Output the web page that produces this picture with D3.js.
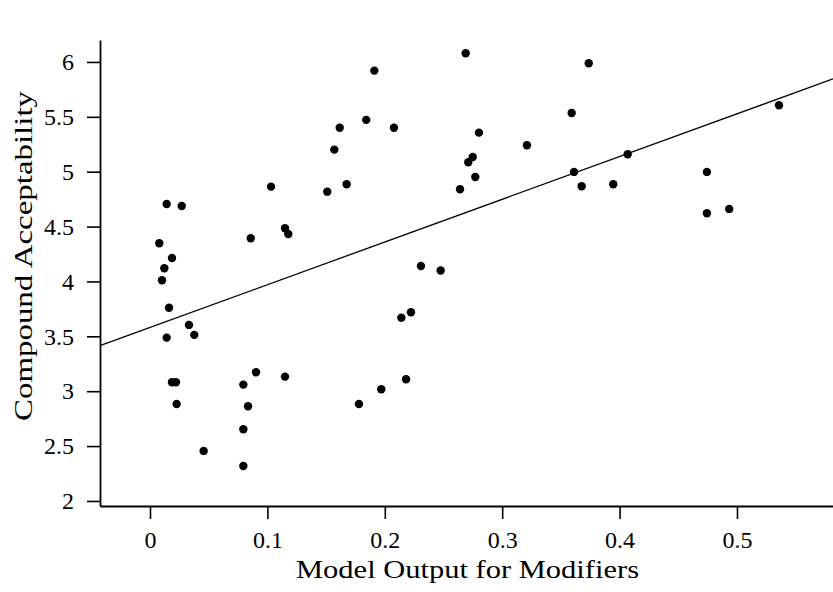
<!DOCTYPE html>
<html>
<head>
<meta charset="utf-8">
<script src="https://cdn.jsdelivr.net/npm/d3@7"></script>
<style>
  html, body { margin: 0; padding: 0; background: #fff; }
  svg { display: block; }
  text { font-family: "Liberation Serif", "Times New Roman", serif; fill: #000; }
</style>
</head>
<body>
<svg id="chart" width="833" height="592"></svg>
<script>
// Data
const modelOutput = [
  0.1031, 0.0142, 0.0270, 0.0858, 0.1150, 0.1178, 0.0079, 0.0187, 0.0122, 0.0102,
  0.0162, 0.0332, 0.0377, 0.0142, 0.0187, 0.0221, 0.0903, 0.1150, 0.0795, 0.0227,
  0.0835, 0.0795, 0.0457, 0.0795, 0.2689, 0.1911, 0.1842, 0.1616, 0.2078, 0.1570,
  0.1675, 0.1510, 0.2802, 0.2749, 0.2711, 0.2771, 0.2641, 0.2308, 0.2476, 0.2223,
  0.2141, 0.2181, 0.1970, 0.1780, 0.3737, 0.3592, 0.3211, 0.4069, 0.3612, 0.3677,
  0.3946, 0.5358, 0.4744, 0.4744, 0.4934
];
const acceptability = [
  4.864, 4.706, 4.688, 4.394, 4.485, 4.433, 4.348, 4.214, 4.120, 4.011,
  3.761, 3.604, 3.513, 3.488, 3.082, 3.082, 3.173, 3.133, 3.060, 2.884,
  2.863, 2.653, 2.456, 2.319, 6.079, 5.921, 5.472, 5.401, 5.401, 5.201,
  4.886, 4.818, 5.356, 5.134, 5.086, 4.952, 4.840, 4.141, 4.100, 3.719,
  3.670, 3.109, 3.018, 2.884, 5.988, 5.535, 5.241, 5.159, 4.998, 4.867,
  4.886, 5.606, 4.998, 4.621, 4.661
];
const fitIntercept = 3.581;
const fitSlope = 3.892;
const xTicks = [0, 0.1, 0.2, 0.3, 0.4, 0.5];
const yTicks = [2, 2.5, 3, 3.5, 4, 4.5, 5, 5.5, 6];
const xDomain = [-0.0426, 0.5818];
const yDomain = [1.954, 6.2];
const xTitle = "Model Output for Modifiers";
const yTitle = "Compound Acceptability";

const points = modelOutput.map((x, i) => ({ x, y: acceptability[i] }));

const svg = d3.select("#chart");
const margin = { left: 100, top: 40, right: 0, bottom: 86 };
const W = 833, H = 592;
const x = d3.scaleLinear().domain(xDomain).range([margin.left, W - margin.right]);
const y = d3.scaleLinear().domain(yDomain).range([H - margin.bottom, margin.top]);

// regression line
const lineGen = d3.line().x(d => x(d[0])).y(d => y(d[1]));
svg.append("path")
  .datum(xDomain.map(v => [v, fitIntercept + fitSlope * v]))
  .attr("d", lineGen)
  .attr("fill", "none")
  .attr("stroke", "#000")
  .attr("stroke-width", 1.3);

// points
svg.append("g").selectAll("circle").data(points).join("circle")
  .attr("cx", d => x(d.x))
  .attr("cy", d => y(d.y))
  .attr("r", 4.2)
  .attr("fill", "#000");

// axes
const fmt = d3.format("");
const xAxis = svg.append("g")
  .attr("transform", `translate(0,${H - margin.bottom})`)
  .call(d3.axisBottom(x).tickValues(xTicks).tickFormat(d => String(d)).tickSize(13).tickSizeOuter(0).tickPadding(12));
const yAxis = svg.append("g")
  .attr("transform", `translate(${margin.left},0)`)
  .call(d3.axisLeft(y).tickValues(yTicks).tickFormat(d => String(d)).tickSize(13).tickSizeOuter(0).tickPadding(13));

[xAxis, yAxis].forEach(g => {
  g.select(".domain").attr("stroke", "#000").attr("stroke-width", 1.8);
  g.selectAll(".tick line").attr("stroke", "#000").attr("stroke-width", 1.6);
  g.selectAll(".tick text").attr("font-size", 24).attr("font-family", "Liberation Serif, serif").attr("fill", "#000");
});

// axis titles
svg.append("text")
  .attr("x", (margin.left + W - margin.right) / 2 + 1)
  .attr("y", 578)
  .attr("text-anchor", "middle")
  .attr("font-size", 25)
  .attr("textLength", 343)
  .attr("lengthAdjust", "spacingAndGlyphs")
  .text(xTitle);

svg.append("text")
  .attr("transform", `translate(32,${256}) rotate(-90)`)
  .attr("text-anchor", "middle")
  .attr("font-size", 25)
  .attr("textLength", 330)
  .attr("lengthAdjust", "spacingAndGlyphs")
  .text(yTitle);
</script>
</body>
</html>
